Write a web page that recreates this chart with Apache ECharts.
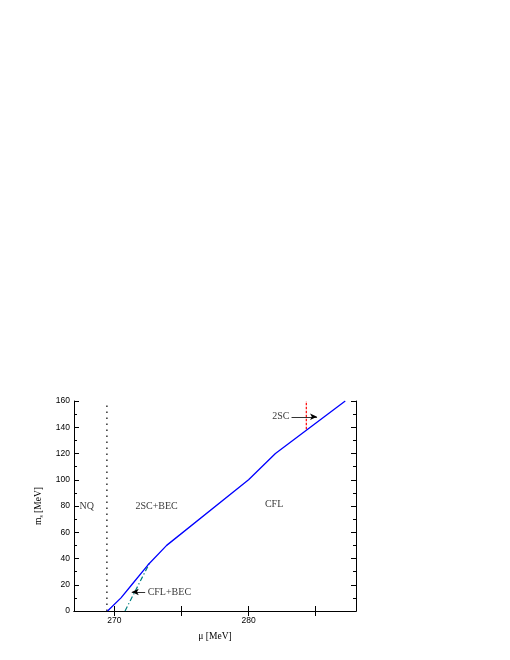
<!DOCTYPE html>
<html><head><meta charset="utf-8">
<script src="https://cdn.jsdelivr.net/npm/echarts@6/dist/echarts.min.js"></script>
<style>html,body{margin:0;padding:0;background:#fff}#c{width:510px;height:660px}</style>
</head><body><div id="c"></div>
<script>
// Phase boundary (solid blue): [mu, m_s]
const boundaryCFL = [[269.5,0],[270.5,10],[271.3,20],[272.5,35],[273.9,50],[280,100],[282,120],[287.2,160]];
// NQ boundary (dotted black)
const boundaryNQ = [[269.45,0],[269.45,160]];
// CFL+BEC boundary (dash-dot teal)
const boundaryCFLBEC = [[270.8,0],[272.65,37]];
// 2SC boundary (dashed red)
const boundary2SC = [[284.3,138.5],[284.3,160]];
// Region labels
const regionLabels = [
  {name:'NQ', value:[267.95,80]},
  {name:'2SC+BEC', value:[273.15,80]},
  {name:'CFL', value:[281.9,81]},
  {name:'2SC', value:[282.4,148]},
  {name:'CFL+BEC', value:[274.1,14.5]}
];
// Arrows: [from, to]
const arrows = [
  [[283.2,148],[285.1,148]],
  [[272.3,14.5],[271.3,14.5]]
];
const xTicks = [270,275,280,285];
const xLabels = [270,280];

const chart = echarts.init(document.getElementById('c'));
const serif = '"Liberation Serif", "DejaVu Serif", serif';
const sans = '"Liberation Sans", Arial, sans-serif';
const axisLine = {show:true, lineStyle:{color:'#000', width:1}};
chart.setOption({
  animation:false,
  grid:{left:74, right:154, top:401, bottom:49},
  xAxis:[{
    type:'value', min:267, max:288, position:'bottom',
    axisLine, splitLine:{show:false},
    axisTick:{show:true, inside:true, length:5, customValues:xTicks, lineStyle:{color:'#000'}},
    axisLabel:{customValues:xLabels, fontFamily:sans, fontSize:8.5, color:'#000', margin:5},
    name:'μ [MeV]', nameLocation:'middle', nameGap:20,
    nameTextStyle:{fontFamily:serif, fontSize:9.5, color:'#000'}
  },{
    type:'value', min:267, max:288, position:'top',
    axisLine, splitLine:{show:false},
    axisTick:{show:true, inside:true, length:5, customValues:xTicks, lineStyle:{color:'#000'}},
    axisLabel:{show:false}
  }],
  yAxis:[{
    type:'value', min:0, max:160, interval:20, position:'left',
    axisLine, splitLine:{show:false},
    axisTick:{show:true, inside:true, length:5, lineStyle:{color:'#000'}},
    minorTick:{show:true, splitNumber:2, length:3, lineStyle:{color:'#000'}},
    axisLabel:{fontFamily:sans, fontSize:8.5, color:'#000', margin:4},
    name:'m{s|s} [MeV]', nameLocation:'middle', nameGap:29, nameRotate:90,
    nameTextStyle:{fontFamily:serif, fontSize:9.5, color:'#000',
      rich:{s:{fontFamily:serif, fontSize:6, color:'#000', verticalAlign:'bottom', padding:[6,0,0,0]}}}
  },{
    type:'value', min:0, max:160, interval:20, position:'right',
    axisLine, splitLine:{show:false},
    axisTick:{show:true, inside:true, length:5, lineStyle:{color:'#000'}},
    minorTick:{show:true, splitNumber:2, length:3, lineStyle:{color:'#000'}},
    axisLabel:{show:false}
  }],
  series:[
    {type:'line', data:boundaryNQ, symbol:'none', lineStyle:{color:'#222', width:1.4, type:[1.4,4.6]}},
    {type:'line', data:boundaryCFLBEC, symbol:'none', lineStyle:{color:'#008080', width:1.2, type:[5,2.5,1.2,2.5]}},
    {type:'line', data:boundary2SC, symbol:'none', lineStyle:{color:'#ff0000', width:1.2, type:[2.5,1.5]}},
    {type:'line', data:boundaryCFL, symbol:'none', lineStyle:{color:'#0000ff', width:1.3}},
    {type:'scatter', data:regionLabels, symbolSize:0,
      label:{show:true, position:'inside', formatter:p=>p.name, fontFamily:serif, fontSize:10, color:'#000'}},
    {type:'line', data:[], symbol:'none',
      markLine:{silent:true, symbol:['none','arrow'], symbolSize:[5,7], label:{show:false},
        lineStyle:{color:'#000', width:0.8, type:'solid'},
        data:arrows.map(a=>[{coord:a[0]},{coord:a[1]}])}}
  ]
});
</script></body></html>
